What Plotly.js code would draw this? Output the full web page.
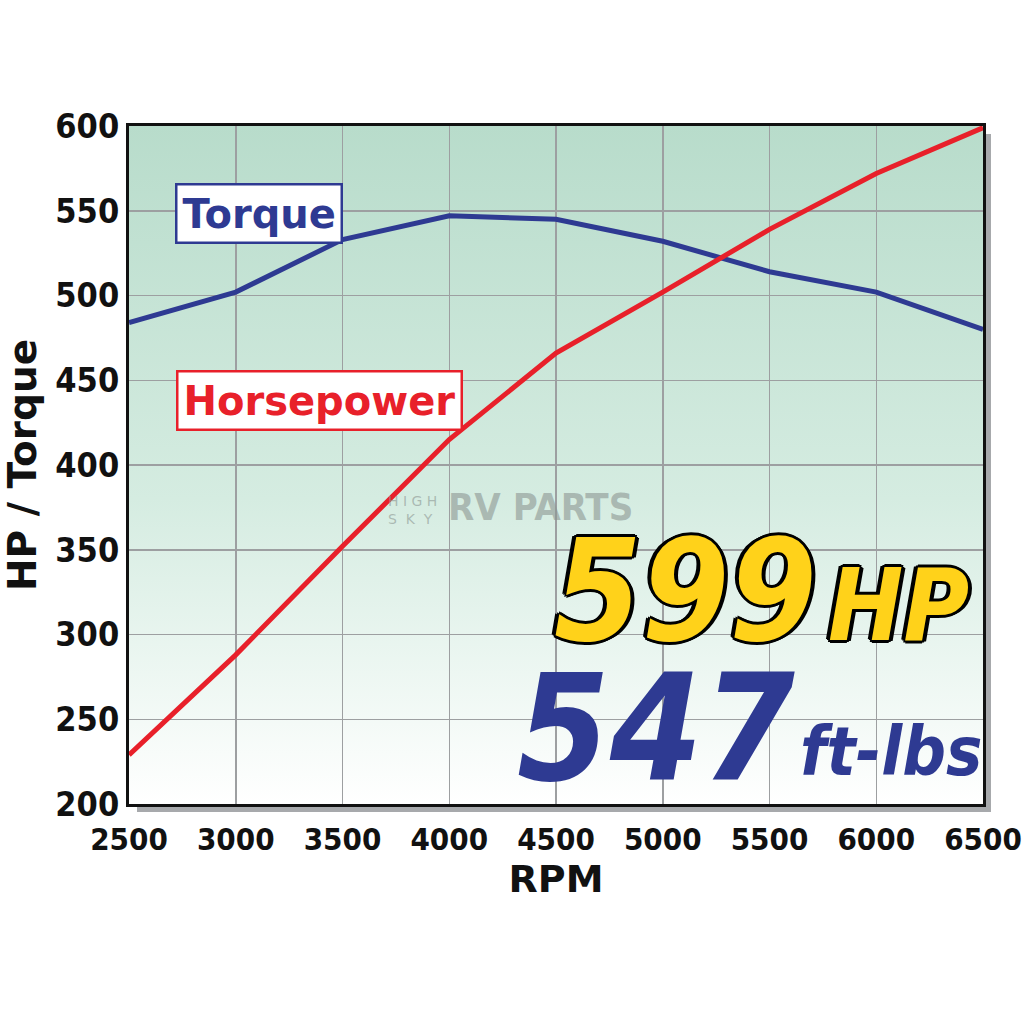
<!DOCTYPE html>
<html>
<head>
<meta charset="utf-8">
<script src="https://cdn.plot.ly/plotly-3.0.1.min.js"></script>
<style>html,body{margin:0;padding:0;background:#fff;}#chart{width:1024px;height:1024px;}</style>
</head>
<body>
<div id="chart"></div>
<script>
const rpm = [2500, 3000, 3500, 4000, 4500, 5000, 5500, 6000, 6500];
const torque = [484, 502, 533, 547, 545, 532, 514, 502, 480];
const horsepower = [229, 288, 352, 415, 466, 502, 539, 572, 599];
const xTicks = [2500, 3000, 3500, 4000, 4500, 5000, 5500, 6000, 6500];
const yTicks = [200, 250, 300, 350, 400, 450, 500, 550, 600];
const peakHP = "599";
const peakTorque = "547";

const BLUE = "#2e3a92";
const RED = "#e8202a";
const COND = "DejaVu Sans Condensed, DejaVu Sans, sans-serif";
const WIDE = "DejaVu Sans, Verdana, sans-serif";

const grad = '<svg xmlns="http://www.w3.org/2000/svg" width="100" height="100" preserveAspectRatio="none">' +
  '<defs><linearGradient id="g" x1="0" y1="0" x2="0" y2="1">' +
  '<stop offset="0" stop-color="#b8dccb"/><stop offset="0.55" stop-color="#d5ece1"/><stop offset="1" stop-color="#ffffff"/>' +
  '</linearGradient></defs><rect width="100" height="100" fill="url(#g)"/></svg>';
const gradUri = "data:image/svg+xml;charset=utf-8," + encodeURIComponent(grad);

const L = 129, R = 983, T = 126, B = 804;
const W = R - L, H = B - T, S = 8;
const px = (x) => (x - L) / W;
const py = (y) => (B - y) / H;
const outline = "3px 0 0 #000, -3px 0 0 #000, 0 3px 0 #000, 0 -3px 0 #000, 2px 2px 0 #000, -2px -2px 0 #000, 2px -2px 0 #000, -2px 2px 0 #000, 4px 1px 0 #000, -4px -1px 0 #000";

const data = [
  {x: rpm, y: torque, type: "scatter", mode: "lines", name: "Torque",
   line: {color: BLUE, width: 5}, hoverinfo: "skip"},
  {x: rpm, y: horsepower, type: "scatter", mode: "lines", name: "Horsepower",
   line: {color: RED, width: 5}, hoverinfo: "skip"}
];

const layout = {
  width: 1024, height: 1024,
  margin: {l: L, r: 1024 - R, t: T, b: 1024 - B},
  paper_bgcolor: "#ffffff",
  plot_bgcolor: "rgba(0,0,0,0)",
  showlegend: false,
  xaxis: {
    range: [2500, 6500], tickvals: xTicks, ticktext: xTicks.map(String),
    showgrid: true, gridcolor: "#9d9fa1", gridwidth: 1.5,
    showline: true, linecolor: "#111", linewidth: 3, mirror: true,
    zeroline: false, ticks: "", ticklen: 0, ticklabeloverflow: "allow", ticklabelstandoff: 6,
    tickfont: {family: COND, size: 31, color: "#111", weight: 700},
    title: {text: "RPM", font: {family: WIDE, size: 38, color: "#111", weight: 700}, standoff: 6}
  },
  yaxis: {
    range: [200, 600], tickvals: yTicks, ticktext: yTicks.map(String),
    showgrid: true, gridcolor: "#9d9fa1", gridwidth: 1.5,
    showline: true, linecolor: "#111", linewidth: 3, mirror: true,
    zeroline: false, ticks: "", ticklen: 0, ticklabeloverflow: "allow",
    tickfont: {family: COND, size: 34, color: "#111", weight: 700},
    title: {text: "HP / Torque", font: {family: WIDE, size: 39, color: "#111", weight: 700}, standoff: 14}
  },
  images: [{
    source: gradUri, xref: "paper", yref: "paper", x: 0, y: 1, sizex: 1, sizey: 1,
    sizing: "stretch", xanchor: "left", yanchor: "top", layer: "below"
  }],
  shapes: [
    {type: "rect", xref: "paper", yref: "paper", x0: 1 + 1.5 / W, x1: 1 + S / W, y0: -S / H, y1: 1 - S / H,
     fillcolor: "#a7a9ac", line: {width: 0}, layer: "below"},
    {type: "rect", xref: "paper", yref: "paper", x0: S / W, x1: 1 + S / W, y0: -S / H, y1: -1.5 / H,
     fillcolor: "#a7a9ac", line: {width: 0}, layer: "below"}
  ],
  annotations: [
    {text: "Torque", xref: "paper", yref: "paper", x: px(175), y: py(183),
     xanchor: "left", yanchor: "top", showarrow: false,
     font: {family: WIDE, size: 40, color: BLUE, weight: 700},
     bgcolor: "#ffffff", bordercolor: BLUE, borderwidth: 2.5, borderpad: 5},
    {text: "Horsepower", xref: "paper", yref: "paper", x: px(176), y: py(370),
     xanchor: "left", yanchor: "top", showarrow: false,
     font: {family: WIDE, size: 40, color: RED, weight: 700},
     bgcolor: "#ffffff", bordercolor: RED, borderwidth: 2.5, borderpad: 5},
    {text: "H I G H<br>S  K  Y", xref: "paper", yref: "paper", x: px(386), y: py(510),
     xanchor: "left", yanchor: "middle", showarrow: false, align: "left",
     font: {family: WIDE, size: 14, color: "rgba(140,150,146,0.6)"}},
    {text: "RV PARTS", xref: "paper", yref: "paper", x: px(446), y: py(507),
     xanchor: "left", yanchor: "middle", showarrow: false,
     font: {family: COND, size: 38, color: "rgba(140,150,146,0.6)", weight: 700}},
    {text: peakHP, xref: "paper", yref: "paper", x: px(552), y: py(591),
     xanchor: "left", yanchor: "middle", showarrow: false,
     font: {family: COND, size: 140, color: "#ffd21a", weight: 700, style: "italic", shadow: outline}},
    {text: "HP", xref: "paper", yref: "paper", x: px(826), y: py(605),
     xanchor: "left", yanchor: "middle", showarrow: false,
     font: {family: COND, size: 100, color: "#ffd21a", weight: 700, style: "italic", shadow: outline}},
    {text: peakTorque, xref: "paper", yref: "paper", x: px(515), y: py(729),
     xanchor: "left", yanchor: "middle", showarrow: false,
     font: {family: COND, size: 148, color: BLUE, weight: 700, style: "italic"}},
    {text: "ft-lbs", xref: "paper", yref: "paper", x: px(798), y: py(751),
     xanchor: "left", yanchor: "middle", showarrow: false,
     font: {family: COND, size: 68, color: BLUE, weight: 700, style: "italic"}}
  ]
};

Plotly.newPlot("chart", data, layout, {displayModeBar: false, staticPlot: true});
</script>
</body>
</html>
